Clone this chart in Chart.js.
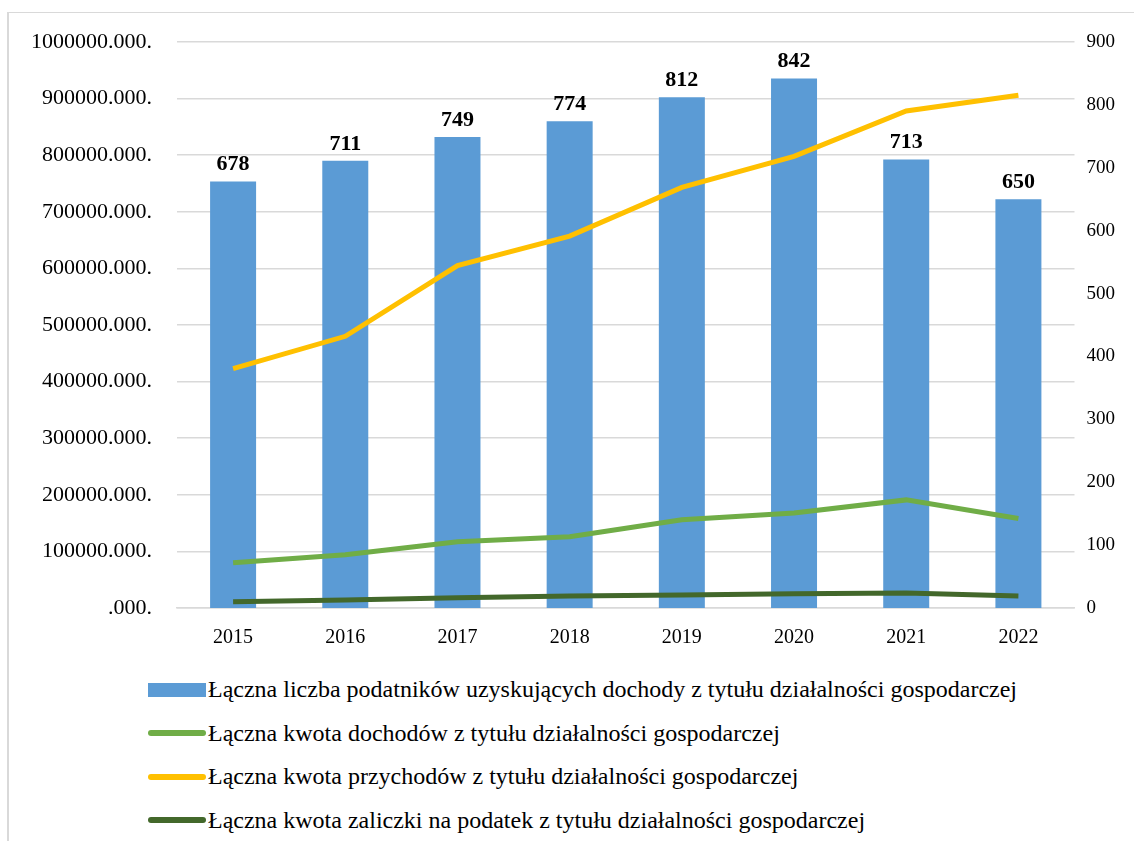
<!DOCTYPE html>
<html>
<head>
<meta charset="utf-8">
<script src="https://cdn.jsdelivr.net/npm/chart.js@4"></script>
<style>
  body { margin: 0; background: #fff; }
  #wrap { position: relative; width: 1134px; height: 841px; overflow: hidden; }
  #frame { position: absolute; left: 7px; top: 12px; right: 0; bottom: 0; border-left: 2px solid #d9d9d9; border-top: 1px solid #d9d9d9; }
  #box { position: absolute; left: 0; top: 0; width: 1134px; height: 668px; }
  #legend { position: absolute; left: 148px; top: 668px; font-family: 'Liberation Serif', serif; font-size: 24px; color: #000; white-space: nowrap; }
  .item { display: flex; align-items: center; height: 43.5px; }
  .item span { font-family: 'Liberation Serif', serif; }
  .swatch { display: inline-block; margin-right: 2px; }
</style>
</head>
<body>
<div id="wrap">
  <div id="frame"></div>
  <div id="box"><canvas id="myChart"></canvas></div>
  <div id="legend"></div>
</div>
<script>
const years = ["2015", "2016", "2017", "2018", "2019", "2020", "2021", "2022"];
// liczba podatników (tys.) - prawa oś
const podatnicy = [678, 711, 749, 774, 812, 842, 713, 650];
// kwoty w tys. zł - lewa oś
const dochody = [80000000, 94000000, 117000000, 126000000, 156000000, 168000000, 191000000, 158000000];
const przychody = [423000000, 480000000, 605000000, 657000000, 743000000, 798000000, 878000000, 906000000];
const zaliczki = [11000000, 14000000, 18000000, 21000000, 23000000, 25000000, 26500000, 21000000];
const leftTicks = [".000.", "100000.000.", "200000.000.", "300000.000.", "400000.000.", "500000.000.",
  "600000.000.", "700000.000.", "800000.000.", "900000.000.", "1000000.000."];

const serif = "'Liberation Serif', 'Times New Roman', serif";

const barLabels = {
  id: "barLabels",
  afterDatasetsDraw(chart) {
    const ctx = chart.ctx;
    const meta = chart.getDatasetMeta(0);
    ctx.save();
    ctx.font = "bold 22px " + serif;
    ctx.fillStyle = "#000";
    ctx.textAlign = "center";
    ctx.textBaseline = "bottom";
    meta.data.forEach(function (bar, i) {
      ctx.fillText(podatnicy[i], bar.x, bar.y - 6);
    });
    ctx.restore();
  }
};

const ctx = document.getElementById("myChart").getContext("2d");
const myChart = new Chart(ctx, {
  type: "bar",
  data: {
    labels: years,
    datasets: [
      {
        type: "bar",
        label: "Łączna liczba podatników uzyskujących dochody z tytułu działalności gospodarczej",
        data: podatnicy,
        backgroundColor: "#5b9bd5",
        yAxisID: "y2",
        barPercentage: 0.41,
        categoryPercentage: 1,
        order: 2
      },
      {
        type: "line",
        label: "Łączna kwota dochodów z tytułu działalności gospodarczej",
        data: dochody,
        borderColor: "#70ad47",
        backgroundColor: "#70ad47",
        borderWidth: 5,
        pointRadius: 0,
        yAxisID: "y",
        order: 1
      },
      {
        type: "line",
        label: "Łączna kwota przychodów z tytułu działalności gospodarczej",
        data: przychody,
        borderColor: "#ffc000",
        backgroundColor: "#ffc000",
        borderWidth: 5,
        pointRadius: 0,
        yAxisID: "y",
        order: 1
      },
      {
        type: "line",
        label: "Łączna kwota zaliczki na podatek z tytułu działalności gospodarczej",
        data: zaliczki,
        borderColor: "#43682b",
        backgroundColor: "#43682b",
        borderWidth: 5,
        pointRadius: 0,
        yAxisID: "y",
        order: 1
      }
    ]
  },
  options: {
    responsive: true,
    maintainAspectRatio: false,
    animation: false,
    layout: { padding: { top: 42, left: 6, right: 7, bottom: 0 } },
    plugins: {
      legend: { display: false },
      tooltip: { enabled: false }
    },
    scales: {
      x: {
        grid: { display: false, drawTicks: false },
        border: { color: "#d9d9d9", width: 1.5 },
        ticks: { color: "#000", font: { family: serif, size: 20 }, padding: 18 }
      },
      y: {
        position: "left",
        min: 0,
        max: 1000000000,
        grid: { color: "#d9d9d9", lineWidth: 1.5, drawTicks: false },
        border: { display: false },
        ticks: {
          stepSize: 100000000,
          color: "#000",
          padding: 25,
          font: { family: serif, size: 22 },
          callback: function (v, i) { return leftTicks[i]; }
        }
      },
      y2: {
        position: "right",
        min: 0,
        max: 900,
        grid: { display: false, drawTicks: false },
        border: { display: false },
        ticks: {
          stepSize: 100,
          color: "#000",
          padding: 12,
          font: { family: serif, size: 19 }
        }
      }
    }
  },
  plugins: [barLabels]
});

// legenda pod wykresem, wyrównana do lewej
const legend = document.getElementById("legend");
myChart.data.datasets.forEach(function (ds) {
  const item = document.createElement("div");
  item.className = "item";
  const sw = document.createElement("span");
  sw.className = "swatch";
  sw.style.width = "58px";
  if (ds.type === "bar") {
    sw.style.height = "14px";
    sw.style.background = ds.backgroundColor;
  } else {
    sw.style.height = "6px";
    sw.style.borderRadius = "3px";
    sw.style.background = ds.borderColor;
  }
  item.appendChild(sw);
  const txt = document.createElement("span");
  txt.textContent = ds.label;
  item.appendChild(txt);
  legend.appendChild(item);
});
</script>
</body>
</html>
